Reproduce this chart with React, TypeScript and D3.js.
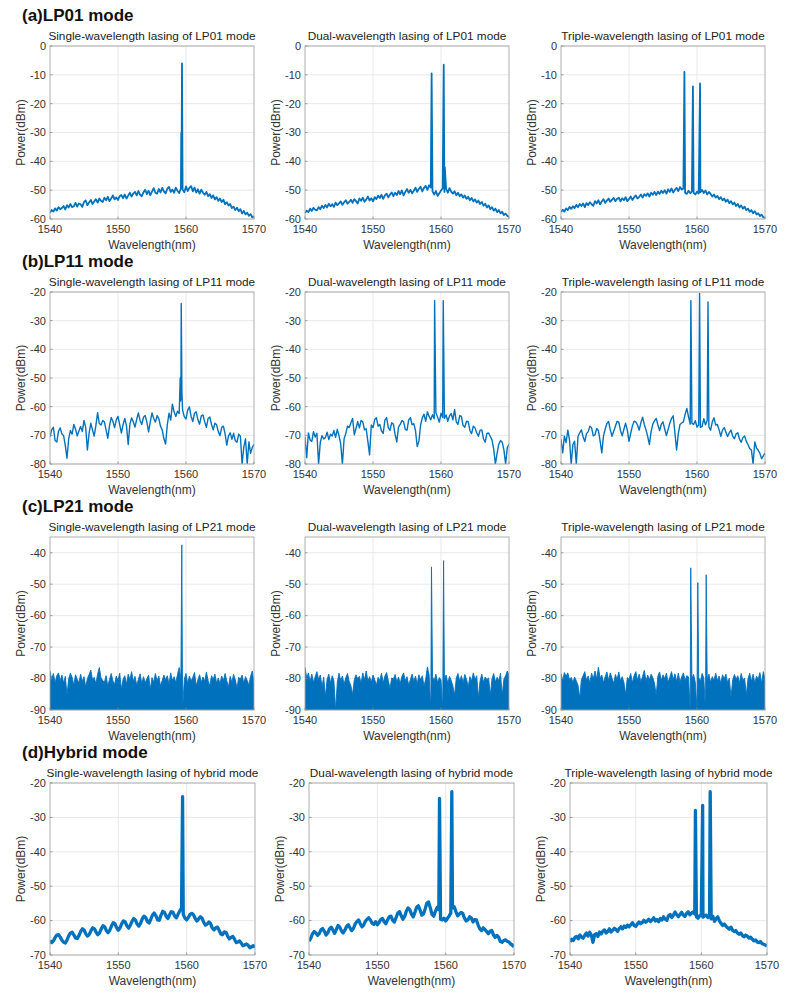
import React from 'react';
import * as d3 from 'd3';

// ---------- data ----------
const WL_START = 1540;
const WL_STEP = 0.25;
const xTicks = [1540, 1550, 1560, 1570];

const rowHeaders = ['(a)LP01 mode', '(b)LP11 mode', '(c)LP21 mode', '(d)Hybrid mode'];
const panelTitles = [
  'Single-wavelength lasing of LP01 mode', 'Dual-wavelength lasing of LP01 mode', 'Triple-wavelength lasing of LP01 mode',
  'Single-wavelength lasing of LP11 mode', 'Dual-wavelength lasing of LP11 mode', 'Triple-wavelength lasing of LP11 mode',
  'Single-wavelength lasing of LP21 mode', 'Dual-wavelength lasing of LP21 mode', 'Triple-wavelength lasing of LP21 mode',
  'Single-wavelength lasing of hybrid mode', 'Dual-wavelength lasing of hybrid mode', 'Triple-wavelength lasing of hybrid mode',
];

const yTicksLP01 = [-60, -50, -40, -30, -20, -10, 0];
const yTicksLP11 = [-80, -70, -60, -50, -40, -30, -20];
const yTicksLP21 = [-90, -80, -70, -60, -50, -40];
const yTicksHybrid = [-70, -60, -50, -40, -30, -20];

// spectra sampled every 0.25 nm from 1540 to 1570 nm (dBm)
const lp01Single = [
  -57.8, -56.9, -57.4, -56.3, -57.1, -55.9, -56.6, -56.2, -55.5, -56.7, -55.2, -56,
  -54.8, -55.9, -55.6, -54.4, -55.7, -54.6, -54.9, -55.8, -54.1, -53.6, -55.2, -54.3,
  -53.4, -54.8, -53.9, -53.1, -54.3, -52.9, -53.7, -54.1, -52.6, -53.5, -52.3, -53.8,
  -52.9, -51.8, -53.2, -52.5, -53.4, -52.1, -51.7, -52.8, -51.5, -52.9, -51.9, -50.9,
  -52.2, -51.1, -50.6, -51.8, -50.3, -51.6, -52.1, -50.7, -49.9, -51.4, -50.2, -51.7,
  -50.5, -49.3, -50.9, -51.2, -49.6, -50.8, -49.2, -50.4, -51.1, -49.5, -48.9, -50.6,
  -49.8, -50.9, -49.1, -50.2, -51, -49.4, -49.8, -50.7, -48.7, -50.3, -49.2, -48.6,
  -50.4, -49.1, -50.8, -49.7, -51.2, -49.8, -50.9, -51.6, -50.6, -52.1, -51.4, -52.7,
  -51.8, -53.2, -52.4, -53.7, -52.9, -54.1, -53.3, -54.9, -54.2, -55.3, -54.8, -56.2,
  -55.7, -56.9, -56.1, -57.3, -56.6, -58.1, -57.2, -58.4, -57.8, -58.9, -58.3, -59.4,
  -59.1,
];
const lp01SinglePeaks: [number, number][] = [[1559.3, -30], [1559.34, -47], [1559.41, -6]];

const lp01Dual = [
  -57.9, -57.1, -57.6, -56.4, -57.2, -56.1, -56.8, -57, -55.9, -56.6, -55.4, -56.2,
  -55.1, -56, -54.7, -55.6, -54.9, -55.8, -54.3, -55.2, -54.6, -53.9, -55.1, -54.2,
  -53.5, -54.7, -54.1, -53.3, -54.4, -53.1, -53.8, -54.6, -52.9, -53.7, -52.6, -54,
  -53.3, -52.2, -53.6, -52.8, -53.9, -52.4, -53.1, -51.9, -52.7, -51.6, -53, -51.8,
  -51.2, -52.5, -51.5, -50.8, -52.1, -50.9, -51.7, -50.3, -51.4, -50.1, -51.8, -50.6,
  -49.6, -50.9, -49.9, -51.1, -50.2, -49.1, -50.6, -49.5, -48.8, -50.4, -49.2, -48.5,
  -49.9, -48.3, -49.1, -50.4, -51.5, -50.3, -52, -51.1, -50.1, -49.4, -50.6, -49.5,
  -50.9, -49.3, -50.5, -51.2, -50.4, -51.8, -50.9, -52.1, -51.5, -52.6, -51.8, -53,
  -52.3, -53.5, -52.7, -53.9, -53.2, -54.3, -53.6, -54.8, -54.1, -55.4, -54.7, -56,
  -55.3, -56.6, -55.9, -57.1, -56.4, -57.6, -56.9, -58, -57.5, -58.6, -58.1, -58.9,
  -59.2,
];
const lp01DualPeaks: [number, number][] = [[1558.62, -9.5], [1560.4, -6.5], [1560.56, -42]];

const lp01Triple = [
  -57.6, -56.8, -57.4, -56.3, -56.9, -55.8, -56.5, -55.6, -56.2, -55.1, -55.9, -54.8,
  -55.5, -54.6, -55.9, -54.5, -55.2, -54.2, -54.9, -55.4, -53.8, -54.6, -53.5, -54.9,
  -53.9, -53.1, -54.4, -53.6, -52.9, -54, -53.3, -52.7, -53.8, -53, -52.6, -53.9,
  -52.8, -53.5, -52.4, -53.8, -53.1, -52.2, -53.4, -52.5, -51.8, -52.9, -52.3, -51.5,
  -52.6, -51.4, -52, -51.1, -52.2, -50.9, -51.6, -50.6, -51.7, -50.5, -51.3, -50.2,
  -51, -50, -51.2, -49.7, -50.6, -49.4, -50.8, -49.9, -49.2, -50.3, -48.9, -49.8,
  -49.4, -50.9, -51.3, -50.2, -51.1, -50.4, -50.9, -51.5, -50.5, -51.2, -50.7, -49.9,
  -51, -50.1, -51.5, -50.6, -51.3, -52.2, -51.5, -52.6, -52, -53.1, -52.4, -53.5,
  -52.9, -54, -53.3, -54.5, -53.8, -54.9, -54.3, -55.5, -54.8, -56, -55.3, -56.4,
  -55.7, -56.9, -56.4, -57.5, -56.9, -58, -57.3, -58.4, -58, -59, -58.5, -59.4,
  -59.6,
];
const lp01TriplePeaks: [number, number][] = [[1558.15, -9], [1559.4, -14], [1560.45, -13]];

const lp11Single = [
  -70.5, -68, -67.2, -71.8, -72.3, -68.6, -67.4, -69.5, -70.1, -73.5, -78, -71.2,
  -68.3, -69.6, -66.2, -67.8, -70.2, -68.5, -66.9, -68.7, -64.8, -67.3, -75.1, -69.2,
  -65.8, -68.1, -70.3, -66.5, -62.1, -65.9, -66.4, -64.8, -65.3, -68.2, -71, -66.7,
  -63.8, -65.1, -67.3, -64.6, -63.4, -66.3, -69.2, -66.2, -64.1, -66.7, -73.2, -66.1,
  -63.9, -65.3, -67.1, -64.4, -62.2, -64.9, -66.2, -63.7, -63.1, -65.4, -68.8, -65.3,
  -62.2, -64.1, -65.4, -63.1, -64.2, -66.8, -68.1, -71.2, -73, -66.4, -62.3, -64.7,
  -59.1, -61.8, -63.4, -61.6, -62.4, -57, -61.2, -63.5, -64.3, -61.2, -60.1, -63.4,
  -65.2, -62.3, -61.8, -64.6, -66.1, -63.2, -62.9, -65.3, -67.2, -64.1, -63.6, -66.2,
  -68.1, -65.8, -66.3, -68.7, -70.1, -67.2, -66.8, -69.5, -73.4, -70.2, -69.1, -71.4,
  -69.3, -71.9, -72.4, -69.6, -70.3, -80, -74.1, -71.2, -80, -72.3, -76.3, -74.2,
  -73.2,
];
const lp11SinglePeaks: [number, number][] = [[1559.15, -50], [1559.2, -58], [1559.3, -24], [1559.4, -55]];

const lp11Dual = [
  -70.5, -77.8, -69.2, -71.6, -72.1, -68.7, -70.6, -69.3, -80, -72.4, -70.1, -71.3,
  -70.8, -68.9, -71.5, -69.6, -70.2, -68.3, -70.7, -67.9, -70.1, -73, -80, -71.2,
  -69.4, -66.8, -67.3, -65.6, -64.1, -69.8, -67.6, -65.2, -67.4, -64.8, -65.3, -68.1,
  -67.7, -72.2, -76.8, -66.4, -67.3, -64.5, -63.9, -66.8, -66.2, -68.5, -69.3, -64.7,
  -63.8, -67.2, -68.3, -65.6, -66.1, -69.7, -72.3, -67.1, -66.2, -64.8, -65.3, -67.9,
  -68.2, -64.6, -63.8, -66.3, -65.9, -68.4, -73.9, -72.1, -66.4, -63.9, -62.6, -65.1,
  -61.8, -63.4, -64.6, -62.8, -64.2, -62.1, -63.7, -65.4, -62.3, -63.8, -64.1, -62.9,
  -65.1, -63.2, -62.4, -64.6, -61, -65.3, -66.2, -63.1, -63.4, -66.6, -67.2, -65.1,
  -65.2, -68.3, -69.4, -66.8, -67.4, -69.1, -70.3, -68.2, -68.1, -71.2, -72.4, -69.3,
  -69.2, -70.4, -71.6, -74.8, -80, -76.2, -73.1, -71.8, -72.4, -75.1, -80, -74.3,
  -73.1,
];
const lp11DualPeaks: [number, number][] = [[1559.06, -23], [1560.33, -23]];

const lp11Triple = [
  -71.4, -76.1, -70.3, -72.5, -68.2, -71.6, -80, -73.2, -72.1, -80, -70.4, -69.1,
  -68.1, -70.5, -72.2, -69.4, -68.7, -66.8, -67.4, -70.2, -69.8, -67.6, -68.3, -71.9,
  -76.1, -70.2, -67.8, -65.9, -65.2, -68.1, -70.3, -68.6, -66.8, -65.1, -65.4, -68.3,
  -70.2, -67.9, -65.8, -68.2, -72.1, -69.3, -66.7, -65.1, -65.3, -66.4, -68.2, -65.6,
  -63.7, -66.2, -68.1, -70.4, -73.2, -68.7, -66.1, -64.9, -64.1, -66.4, -68.3, -66.2,
  -65.3, -67.8, -70.1, -67.9, -65.8, -64.1, -63.2, -69.1, -75.1, -69.4, -66.2, -65.7,
  -65.3, -62.7, -60.6, -63.5, -66.1, -65.8, -66.2, -64.9, -67.1, -66.4, -67.2, -66.9,
  -64.2, -66.3, -64.8, -67.1, -68.2, -65.3, -63.9, -66.4, -66.2, -68.1, -70.3, -68.2,
  -67.3, -68.9, -70.4, -69.1, -68.2, -70.3, -71.2, -69.5, -69.1, -71.3, -72.4, -70.8,
  -70.2, -72.1, -73.2, -74.6, -75.1, -80, -72.3, -74.4, -75.2, -76.3, -78.1, -77.2,
  -76.2,
];
const lp11TriplePeaks: [number, number][] = [[1559.1, -23], [1560.38, -20.5], [1561.62, -23.5]];

const lp21Single = [
  -77.6, -80.2, -78.4, -81.3, -79.1, -78.2, -80.7, -78.9, -81.4, -79.3, -85.2, -80.1,
  -78.3, -79.6, -82.1, -78.8, -80.2, -81.4, -78.6, -80.9, -79.4, -82.6, -80.1, -78.7,
  -77.3, -80.4, -79.6, -81.7, -78.6, -76.5, -79.8, -80.6, -81.2, -79.1, -82.4, -80.3,
  -78.4, -80.7, -81.9, -79.2, -80.6, -78.3, -83.4, -80.2, -79.1, -81.8, -78.6, -80.4,
  -77.8, -80.9, -79.3, -82.1, -80.2, -78.5, -81.6, -79.4, -81.3, -80.1, -78.9, -83.5,
  -79.7, -81.2, -78.4, -80.8, -79.2, -82.4, -80.6, -78.9, -80.4, -79.1, -81.8, -78.2,
  -80.6, -79.4, -81.3, -78.7, -76.5, -80.3, -90, -80.2, -78.4, -81.6, -79.2, -80.8,
  -79.6, -78.1, -82.3, -80.4, -78.8, -81.2, -79.5, -80.9, -77.9, -80.6, -82.4, -79.1,
  -80.3, -78.6, -81.4, -79.8, -81.6, -79.2, -80.7, -78.4, -80.8, -82.6, -79.3, -81.2,
  -78.7, -80.4, -83.1, -79.6, -80.2, -78.9, -81.5, -79.4, -80.6, -82.1, -79.3, -77.6,
  -81.4,
];
const lp21SinglePeaks: [number, number][] = [[1559.38, -37.5]];

const lp21Dual = [
  -76.4, -79.8, -78.2, -80.9, -78.6, -81.2, -79.4, -77.8, -80.3, -78.9, -82.6, -79.5,
  -85.8, -80.2, -78.6, -81.4, -79.1, -80.7, -90, -81.2, -78.3, -80.6, -79.2, -81.8,
  -79.7, -78.4, -80.9, -82.3, -85.1, -80.4, -78.8, -80.1, -79.3, -81.6, -78.2, -80.5,
  -77.6, -80.8, -79.4, -81.2, -78.9, -80.3, -82.1, -79.6, -80.7, -78.3, -81.4, -79.2,
  -78.1, -80.6, -83.2, -79.8, -80.2, -78.7, -81.1, -79.5, -81.6, -79.3, -78.2, -80.7,
  -79.4, -82.1, -80.3, -78.6, -80.9, -79.2, -81.7, -78.8, -80.5, -79.1, -82.4, -80.2,
  -76.3, -78.9, -90, -79.4, -80.8, -78.6, -81.3, -79.7, -80.4, -90, -80.2, -78.9,
  -81.5, -79.3, -80.6, -82.4, -85.2, -79.8, -78.4, -80.9, -79.1, -81.3, -78.7, -80.2,
  -82.6, -79.4, -80.8, -78.2, -80.3, -79.1, -86.1, -80.7, -78.6, -81.2, -79.5, -80.3,
  -79.8, -85.3, -80.1, -78.4, -81.1, -79.6, -80.8, -78.3, -85.4, -80.2, -79.1, -77.6,
  -78.9,
];
const lp21DualPeaks: [number, number][] = [[1558.6, -44.5], [1560.38, -42.5]];

const lp21Triple = [
  -78.4, -80.6, -78.1, -79.3, -78.2, -80.4, -79.6, -81.2, -79.5, -80.8, -82.1, -86.2,
  -80.3, -79.1, -77.8, -80.6, -79.2, -81.4, -78.3, -80.1, -77.6, -80.2, -76.4, -79.8,
  -78.9, -81.3, -79.4, -77.9, -80.6, -78.2, -79.9, -81.6, -78.7, -80.3, -77.9, -80.8,
  -79.4, -81.2, -85.1, -79.7, -80.2, -78.4, -81.3, -79.1, -77.8, -80.5, -78.6, -81.1,
  -79.3, -77.4, -80.8, -78.9, -80.4, -78.6, -79.7, -81.5, -85.3, -79.2, -77.9, -80.6,
  -78.8, -80.1, -78.3, -81.2, -79.6, -77.8, -80.4, -78.5, -80.9, -78.3, -81.1, -79.4,
  -78.2, -80.6, -79.1, -79.5, -90, -80.1, -78.7, -81.2, -90, -79.6, -80.9, -78.4,
  -79.8, -90, -80.3, -78.6, -81.2, -79.4, -80.6, -78.3, -80.7, -79.2, -81.5, -78.8,
  -80.1, -78.6, -81.3, -79.9, -86.1, -80.4, -78.7, -80.2, -79.1, -81.3, -78.4, -80.6,
  -79.8, -85.2, -80.1, -78.3, -80.9, -78.6, -81.4, -79.2, -80.3, -78.1, -81.6, -77.8,
  -80.2,
];
const lp21TriplePeaks: [number, number][] = [[1559.08, -44.8], [1560.12, -49.5], [1561.35, -47]];

const hybridSingle = [
  -65.8, -66.4, -65.9, -64.9, -64.2, -64.1, -64.8, -65.7, -66.3, -66.5, -65.6, -64.4,
  -63.6, -63.4, -64.2, -65.1, -65.2, -64.3, -63.1, -62.4, -62.8, -63.9, -64.5, -64,
  -62.9, -62.1, -62.4, -63.4, -64.1, -63.6, -62.4, -61.5, -61.8, -62.9, -63.5, -62.8,
  -61.6, -60.6, -60.9, -62.1, -62.8, -62.1, -60.9, -60.1, -60.4, -61.5, -62.2, -61.4,
  -60.2, -59.4, -59.8, -61, -61.6, -60.8, -59.5, -58.7, -59.1, -60.3, -60.7, -59.6,
  -58.4, -57.8, -58.6, -59.8, -59.9, -58.4, -57.3, -57.6, -58.8, -59.4, -58.3, -57.4,
  -57.6, -58.7, -59.2, -58.1, -57.2, -56.4, -58.2, -59.3, -59.8, -59.1, -58.2, -57.9,
  -58.3, -59.4, -60.1, -59.5, -58.9, -59.3, -60.5, -61.3, -61, -60.4, -60.9, -62.2,
  -62.7, -62.1, -61.9, -62.8, -63.9, -64.1, -63.3, -63.4, -64.5, -65.3, -64.9, -64.6,
  -65.4, -66.4, -66.2, -65.9, -66.6, -67.3, -67.1, -66.8, -67.2, -67.9, -67.6, -67.3,
  -67.8,
];
const hybridSinglePeaks: [number, number][] = [[1559.4, -24]];

const hybridDual = [
  -66, -65.2, -63.9, -63.2, -63.6, -64.3, -63.8, -62.7, -62.3, -63.1, -64.2, -63.6,
  -62.4, -61.9, -62.8, -63.7, -62.6, -61.4, -61.9, -63, -63.6, -62.8, -61.7, -61.2,
  -62.1, -62.9, -62.3, -61, -60.3, -59.8, -60.9, -61.8, -61.3, -60.2, -59.6, -59.2,
  -59.9, -60.8, -61.1, -60.3, -61.2, -60.6, -59.7, -59.4, -60.3, -60.9, -59.8, -58.9,
  -58.7, -59.9, -60.4, -59.1, -57.8, -57.4, -58.6, -59.6, -58.8, -57.2, -56.3, -56.8,
  -58.1, -58.9, -57.6, -56.1, -55.7, -56.9, -58.4, -58.1, -56.6, -54.9, -54.6, -56.3,
  -58.2, -58.7, -57.3, -56.2, -56.8, -59.6, -59.8, -59.3, -60.1, -59.4, -58.7, -57.8,
  -56.3, -56, -57.4, -58.6, -58.1, -57.6, -57.9, -59.3, -60.1, -59.8, -58.9, -59.2,
  -60.4, -59.7, -59.8, -61.3, -62.4, -62.9, -62.1, -62.6, -63.2, -63.8, -63.1, -62.9,
  -64.2, -64.9, -64.3, -64.8, -66.1, -66.3, -65.8, -65.6, -66, -66.2, -66.8, -67.1,
  -67.6,
];
const hybridDualPeaks: [number, number][] = [[1559.1, -24.5], [1560.9, -22.5]];

const hybridTriple = [
  -66.2, -65.4, -65.8, -64.9, -64.6, -65.3, -64.2, -64.8, -65.1, -64.3, -63.6, -64.5,
  -63.4, -64.2, -66.3, -64.1, -63.8, -64.6, -63.3, -63.9, -63.1, -62.7, -63.6, -63.2,
  -62.4, -63.3, -62.8, -62.2, -62.6, -63.1, -62.3, -61.8, -62.4, -61.6, -62, -61.3,
  -61.8, -61.2, -60.6, -61.4, -61.7, -61, -60.4, -60.9, -60.6, -59.9, -60.5, -60.1,
  -59.6, -60.3, -59.8, -59.2, -60.1, -59.7, -60.3, -59.4, -59.8, -58.9, -59.6, -59.9,
  -58.6, -58.2, -59.1, -58.4, -57.5, -58.3, -58.9, -58.2, -57.6, -58.4, -58.8, -57.9,
  -57.4, -58.3, -57.8, -57.5, -58.1, -58.9, -59.3, -58.6, -58.2, -59, -58.6, -58.4,
  -59.1, -58.8, -59.5, -58.7, -60.2, -59.4, -58.9, -60.1, -60.8, -61.4, -61, -61.6,
  -62.1, -62.5, -61.9, -62.8, -63.2, -62.9, -63.6, -64, -63.6, -64.3, -64.7, -64.2,
  -64.5, -65.1, -64.8, -65.4, -65.9, -65.6, -66.2, -66.4, -66.1, -66.7, -66.9, -67.1,
  -67.4,
];
const hybridTriplePeaks: [number, number][] = [[1559.1, -28], [1560.2, -26.5], [1561.35, -22.5]];

// ---------- layout ----------
const COLOR = '#0072BD';
const FONT = '"Liberation Sans", Arial, Helvetica, sans-serif';

const colsABC = [[50, 254], [305, 509], [561, 765]];
const colsD = [[50, 255], [309, 514], [570, 767]];
const rowTops = [46, 292, 537, 783];
const rowBottoms = [219, 464, 710, 955];
const headerBaselines = [21, 267, 512, 758];

type Kind = 'line' | 'noisy' | 'area' | 'thick';
const rowKinds: Kind[] = ['line', 'noisy', 'area', 'thick'];
const rowDomains: [number, number][] = [[-60, 0], [-80, -20], [-90, -35], [-70, -20]];
const rowTicks = [yTicksLP01, yTicksLP11, yTicksLP21, yTicksHybrid];
const rowSeries = [
  [[lp01Single, lp01SinglePeaks], [lp01Dual, lp01DualPeaks], [lp01Triple, lp01TriplePeaks]],
  [[lp11Single, lp11SinglePeaks], [lp11Dual, lp11DualPeaks], [lp11Triple, lp11TriplePeaks]],
  [[lp21Single, lp21SinglePeaks], [lp21Dual, lp21DualPeaks], [lp21Triple, lp21TriplePeaks]],
  [[hybridSingle, hybridSinglePeaks], [hybridDual, hybridDualPeaks], [hybridTriple, hybridTriplePeaks]],
] as [number[], [number, number][]][][];

function buildSeries(values: number[], peaks: [number, number][]): [number, number][] {
  const pts: [number, number][] = values.map((v, i) => [WL_START + i * WL_STEP, v]);
  return pts.concat(peaks).sort((a, b) => a[0] - b[0]);
}

function Panel({ left, right, top, bottom, title, values, peaks, domain, yTicks, kind }: any) {
  const x = d3.scaleLinear().domain([1540, 1570]).range([left, right]);
  const y = d3.scaleLinear().domain(domain).range([bottom, top]);
  const data = buildSeries(values, peaks);
  const clipId = `clip-${Math.round(left)}-${Math.round(top)}`;
  const line = d3.line<[number, number]>().x(d => x(d[0])).y(d => y(d[1]));
  const area = d3.area<[number, number]>().x(d => x(d[0])).y0(y(domain[0])).y1(d => y(d[1]));
  const cx = (left + right) / 2;
  const cy = (top + bottom) / 2;
  const sw = kind === 'thick' ? 3.3 : kind === 'line' ? 1.8 : 1.4;
  return (
    <g>
      <defs>
        <clipPath id={clipId}>
          <rect x={left} y={top} width={right - left} height={bottom - top} />
        </clipPath>
      </defs>
      <rect x={left} y={top} width={right - left} height={bottom - top} fill="#fff" />
      {xTicks.slice(1, -1).map(t => (
        <line key={'gx' + t} x1={x(t)} x2={x(t)} y1={top} y2={bottom} stroke="#e3e3e3" strokeWidth={0.8} />
      ))}
      {yTicks.map((t: number) => (
        <line key={'gy' + t} x1={left} x2={right} y1={y(t)} y2={y(t)} stroke="#e3e3e3" strokeWidth={0.8} />
      ))}
      <g clipPath={`url(#${clipId})`}>
        {kind === 'area' ? (
          <>
            <path d={area(data) || ''} fill={COLOR} />
            <path d={line(data) || ''} fill="none" stroke={COLOR} strokeWidth={0.9} />
          </>
        ) : (
          <path d={line(data) || ''} fill="none" stroke={COLOR} strokeWidth={sw} strokeLinejoin="round" />
        )}
      </g>
      <rect x={left} y={top} width={right - left} height={bottom - top} fill="none" stroke="#a6a6a6" strokeWidth={0.9} />
      {xTicks.map(t => (
        <line key={'tx' + t} x1={x(t)} x2={x(t)} y1={bottom} y2={bottom - 2.5} stroke="#8a8a8a" strokeWidth={0.8} />
      ))}
      {yTicks.map((t: number) => (
        <line key={'ty' + t} x1={left} x2={left + 2.5} y1={y(t)} y2={y(t)} stroke="#8a8a8a" strokeWidth={0.8} />
      ))}
      {xTicks.map(t => (
        <text key={'lx' + t} x={x(t)} y={bottom + 14} textAnchor="middle" fontSize={11} fill="#333">{t}</text>
      ))}
      {yTicks.map((t: number) => (
        <text key={'ly' + t} x={left - 4} y={y(t)} dy="0.35em" textAnchor="end" fontSize={11} fill="#333">{t}</text>
      ))}
      <text x={cx} y={top - 6.5} textAnchor="middle" fontSize={11.8} fill="#222">{title}</text>
      <text x={cx} y={bottom + 29.5} textAnchor="middle" fontSize={12} fill="#333">Wavelength(nm)</text>
      <text transform={`translate(${left - 25},${cy}) rotate(-90)`} textAnchor="middle" fontSize={12} fill="#333">Power(dBm)</text>
    </g>
  );
}

export default function App() {
  return (
    <svg width={796} height={999} style={{ position: 'absolute', left: 0, top: 0, background: '#fff' }} fontFamily={FONT}>
      <rect width={796} height={999} fill="#fff" />
      {rowHeaders.map((h, r) => (
        <text key={h} x={22} y={headerBaselines[r]} fontSize={17} fontWeight="bold" fill="#111">{h}</text>
      ))}
      {rowHeaders.map((_, r) => {
        const cols = r === 3 ? colsD : colsABC;
        return cols.map((c, ci) => (
          <Panel
            key={r + '-' + ci}
            left={c[0]}
            right={c[1]}
            top={rowTops[r]}
            bottom={rowBottoms[r]}
            title={panelTitles[r * 3 + ci]}
            values={rowSeries[r][ci][0]}
            peaks={rowSeries[r][ci][1]}
            domain={rowDomains[r]}
            yTicks={rowTicks[r]}
            kind={rowKinds[r]}
          />
        ));
      })}
    </svg>
  );
}
